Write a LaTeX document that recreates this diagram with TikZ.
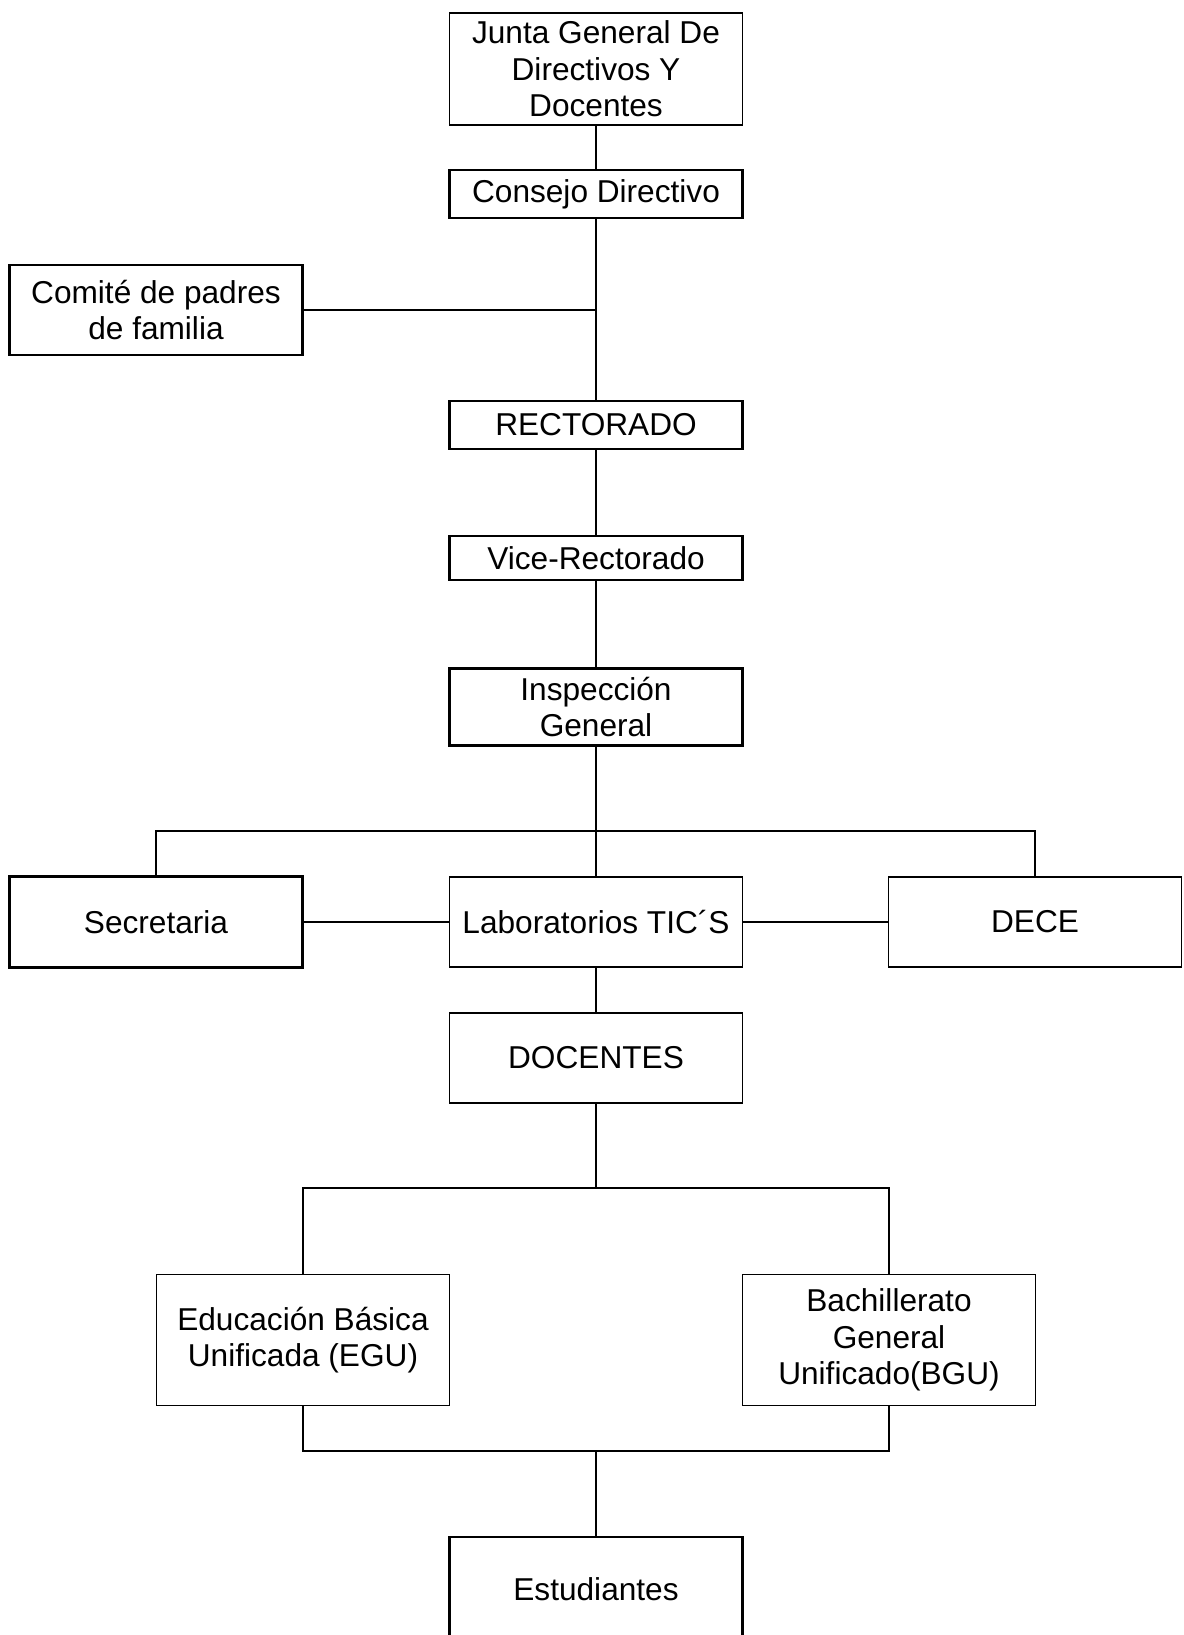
\documentclass[tikz,border=0pt]{standalone}
\usepackage{fontspec}
\setmainfont{Liberation Sans}
\usepackage{tikz}
\usetikzlibrary{calc, positioning}

\begin{document}
\begin{tikzpicture}[x=0.02cm,y=-0.02cm,-,line width=0.9pt,
                    font=\fontsize{18}{20.7}\selectfont,
                    main node/.style={rectangle,draw,line width=0.8pt,minimum width=5.86cm,align=center,inner sep=0pt},
                    bold node/.style={main node,line width=1.5pt}]

  \useasboundingbox (0,0) rectangle (1183,1635);

  \node[main node,minimum height=2.24cm] (junta) at (596,69) {Junta General De\\Directivos Y\\Docentes};
  \node[bold node,minimum height=0.96cm] (consejo) at (596,194) {Consejo Directivo};
  \node[bold node,minimum height=1.8cm] (comite) at (156,310) {Comité de padres\\de familia};
  \node[bold node,minimum height=0.96cm] (rector) at (596,425) {RECTORADO};
  \node[bold node,minimum height=0.88cm] (vice) at (596,558) {Vice-Rectorado};
  \node[bold node,minimum height=1.54cm] (insp) at (596,707) {Inspección\\General};
  \node[bold node,minimum height=1.82cm] (secre) at (156,922) {Secretaria};
  \node[main node,minimum height=1.8cm] (lab) at (596,922) {Laboratorios TIC´S};
  \node[main node,minimum height=1.8cm] (dece) at (1035,922) {DECE};
  \node[main node,minimum height=1.8cm] (docentes) at (596,1058) {DOCENTES};
  \node[main node,minimum height=2.62cm] (egu) at (303,1340) {Educación Básica\\Unificada (EGU)};
  \node[main node,minimum height=2.62cm] (bgu) at (889,1340) {Bachillerato\\General\\Unificado(BGU)};
  \node[bold node,minimum height=2.08cm] (estud) at (596,1589) {Estudiantes};

  \coordinate (b1) at (596,831);
  \coordinate (b2) at (596,1188);
  \coordinate (b3) at (596,1451);

  \path
    (junta) edge (consejo)
    (consejo) edge (rector)
    (rector) edge (vice)
    (vice) edge (insp)
    (insp) edge (b1)
    (b1) edge (lab)
    (secre) edge (lab)
    (lab) edge (dece)
    (lab) edge (docentes)
    (docentes) edge (b2)
    (b3) edge (estud);

  \draw (comite) -- (comite -| consejo);
  \draw (secre.north) |- (b1) -| (dece.north);
  \draw (egu.north) |- (b2) -| (bgu.north);
  \draw (egu.south) |- (b3) -| (bgu.south);

\end{tikzpicture}
\end{document}
